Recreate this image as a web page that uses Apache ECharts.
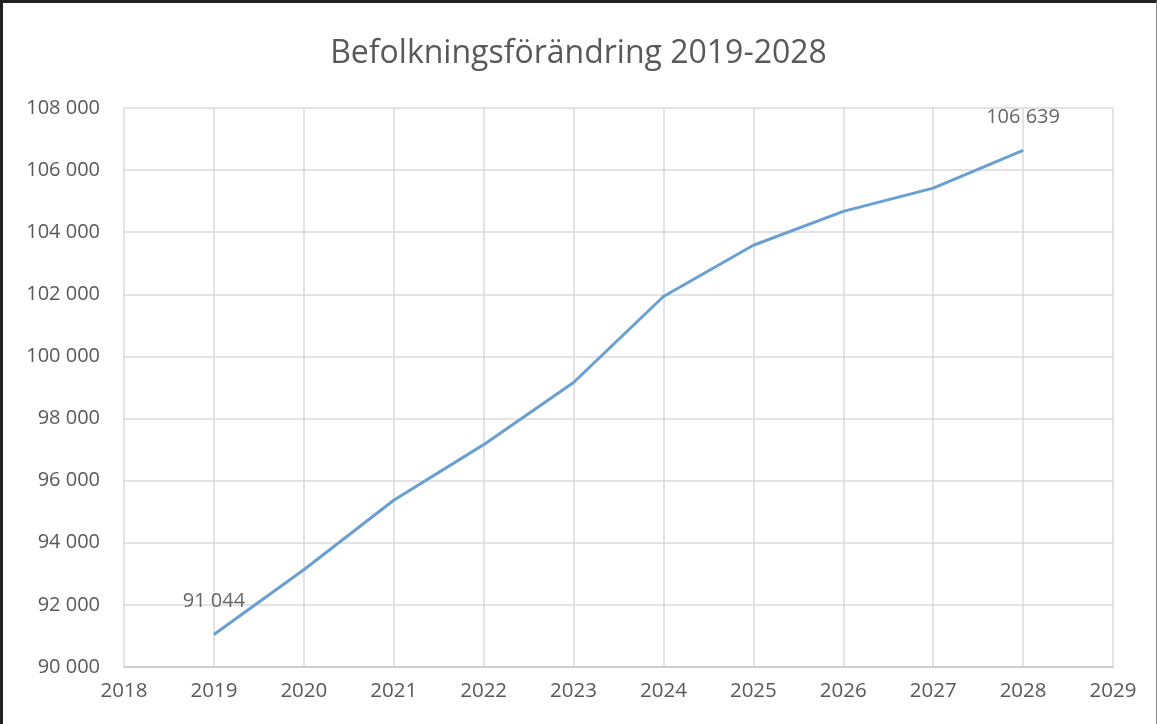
<!DOCTYPE html>
<html>
<head>
<meta charset="utf-8">
<script src="https://cdn.jsdelivr.net/npm/echarts@6/dist/echarts.min.js"></script>
<style>
html,body{margin:0;padding:0;background:#fff;}
#frame{position:absolute;left:0;top:0;width:1157px;height:724px;box-sizing:border-box;border-left:3px solid #222;border-top:3px solid #222;border-right:1px solid #888;pointer-events:none;}
#c{position:absolute;left:0;top:0;width:1157px;height:724px;}
</style>
</head>
<body>
<div id="c"></div>
<div id="frame"></div>
<script>
const titleText = 'Befolkningsförändring 2019-2028';
const years = [2019, 2020, 2021, 2022, 2023, 2024, 2025, 2026, 2027, 2028];
const population = [91044, 93130, 95370, 97160, 99160, 101930, 103580, 104670, 105420, 106639];
const labeledYears = [2019, 2028];

function fmt(v){
  return String(Math.round(v)).replace(/\B(?=(\d{3})+(?!\d))/g, ' ');
}

const chart = echarts.init(document.getElementById('c'));
const lineData = years.map((y, i) => [y, population[i]]);
const labelData = years
  .map((y, i) => [y, population[i]])
  .filter(d => labeledYears.indexOf(d[0]) >= 0);

chart.setOption({
  backgroundColor: '#ffffff',
  title: {
    text: titleText,
    left: 'center',
    top: 33,
    textStyle: { fontFamily: 'Open Sans', fontSize: 32, fontWeight: 'normal', color: '#595959' }
  },
  grid: { left: 124, right: 44, top: 108, bottom: 57 },
  xAxis: {
    type: 'value',
    min: 2018, max: 2029, interval: 1,
    axisLine: { show: true, lineStyle: { color: '#c8c8c8', width: 1.5 } },
    axisTick: { show: false },
    splitLine: { show: true, lineStyle: { color: '#dadada', width: 1.5 } },
    axisLabel: { color: '#595959', fontSize: 20.5, fontFamily: 'Open Sans', margin: 14, formatter: v => String(v) }
  },
  yAxis: {
    type: 'value',
    min: 90000, max: 108000, interval: 2000,
    axisLine: { show: false },
    axisTick: { show: false },
    splitLine: { show: true, lineStyle: { color: '#dadada', width: 1.5 } },
    axisLabel: { color: '#595959', fontSize: 20, fontFamily: 'Open Sans', margin: 24, formatter: v => fmt(v) }
  },
  series: [{
    type: 'line',
    data: lineData,
    showSymbol: false,
    symbol: 'none',
    lineStyle: { color: '#6a9fd2', width: 3 },
    itemStyle: { color: '#6a9fd2' },
    animation: false
  }, {
    type: 'scatter',
    data: labelData,
    symbol: 'circle',
    symbolSize: 2,
    itemStyle: { color: 'rgba(255,255,255,0)' },
    label: {
      show: true,
      position: 'top',
      distance: 22,
      color: '#404040', fontSize: 20, fontFamily: 'Open Sans',
      formatter: p => fmt(p.value[1])
    },
    z: 5,
    animation: false
  }]
});
</script>
</body>
</html>
